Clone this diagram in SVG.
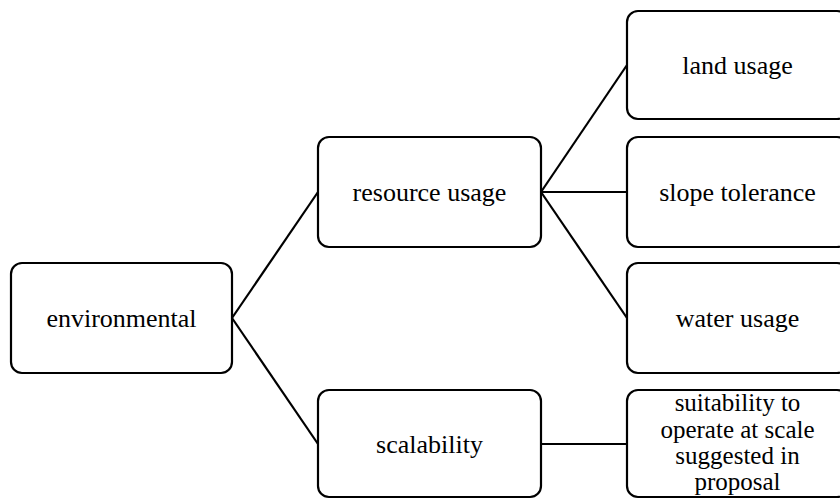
<svg xmlns="http://www.w3.org/2000/svg" width="840" height="499" viewBox="0 0 840 499">
<style>
.box{fill:#fff;stroke:#000;stroke-width:2.2}
.lbl{font-family:'Liberation Serif','Times New Roman',Times,serif;font-size:26px;fill:#000;text-anchor:middle}
.small{font-size:25px}
.conn{stroke:#000;stroke-width:2.2;fill:none}
</style>
<rect width="840" height="499" fill="#fff"/>
<g id="connectors">
<line class="conn" x1="232" y1="318" x2="318" y2="192"/>
<line class="conn" x1="232" y1="318" x2="318" y2="444"/>
<line class="conn" x1="541" y1="192" x2="627" y2="65"/>
<line class="conn" x1="541" y1="192" x2="627" y2="192"/>
<line class="conn" x1="541" y1="192" x2="627" y2="318"/>
<line class="conn" x1="541" y1="444" x2="627" y2="444"/>
</g>
<g id="environmental">
<rect class="box" x="11" y="263" width="221" height="110" rx="11"/>
<text class="lbl" font-family="Liberation Serif, serif" x="121.5" y="327">environmental</text>
</g>
<g id="resource-usage">
<rect class="box" x="318" y="137" width="223" height="110" rx="11"/>
<text class="lbl" font-family="Liberation Serif, serif" x="429.5" y="201">resource usage</text>
</g>
<g id="scalability">
<rect class="box" x="318" y="390" width="223" height="107" rx="11"/>
<text class="lbl" font-family="Liberation Serif, serif" x="429.5" y="453">scalability</text>
</g>
<g id="land-usage">
<rect class="box" x="627" y="11" width="221" height="108" rx="11"/>
<text class="lbl" font-family="Liberation Serif, serif" x="737.5" y="74">land usage</text>
</g>
<g id="slope-tolerance">
<rect class="box" x="627" y="137" width="221" height="110" rx="11"/>
<text class="lbl" font-family="Liberation Serif, serif" x="737.5" y="201">slope tolerance</text>
</g>
<g id="water-usage">
<rect class="box" x="627" y="263" width="221" height="110" rx="11"/>
<text class="lbl" font-family="Liberation Serif, serif" x="737.5" y="327">water usage</text>
</g>
<g id="suitability">
<rect class="box" x="627" y="390" width="221" height="107" rx="11"/>
<text class="lbl small" font-family="Liberation Serif, serif" x="737.5" y="411">suitability to</text>
<text class="lbl small" font-family="Liberation Serif, serif" x="737.5" y="437.5">operate at scale</text>
<text class="lbl small" font-family="Liberation Serif, serif" x="737.5" y="464">suggested in</text>
<text class="lbl small" font-family="Liberation Serif, serif" x="737.5" y="490">proposal</text>
</g>
</svg>
